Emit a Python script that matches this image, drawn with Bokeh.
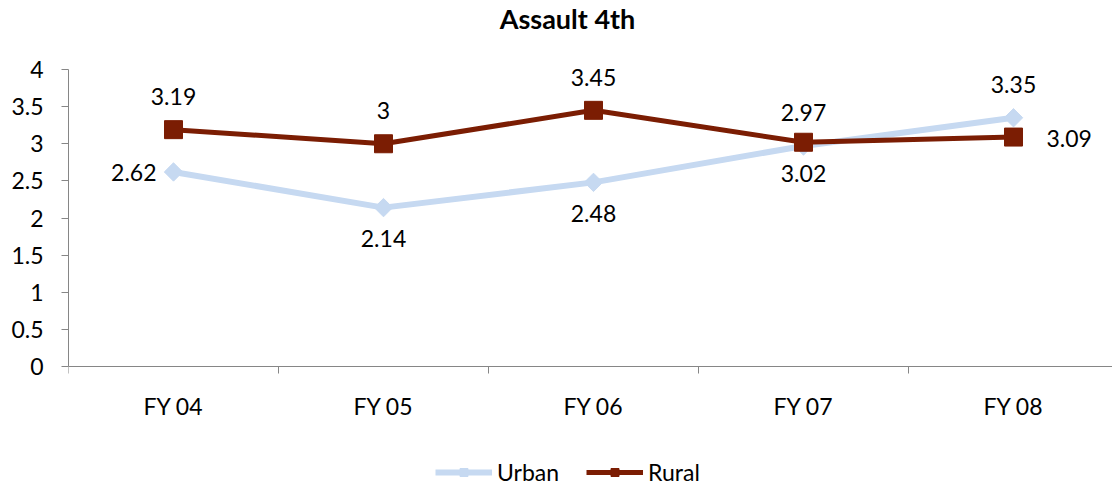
import numpy as np
from bokeh.plotting import figure
from bokeh.models import FixedTicker, Legend, LegendItem, ColumnDataSource, Label
from bokeh.core.properties import value
from bokeh.embed import file_html
from bokeh.resources import INLINE

categories = ["FY 04", "FY 05", "FY 06", "FY 07", "FY 08"]
urban = [2.62, 2.14, 2.48, 2.97, 3.35]
rural = [3.19, 3.00, 3.45, 3.02, 3.09]
urban_label_pos = ["left", "below", "below", "above", "above"]
rural_label_pos = ["above", "above", "above", "below", "right"]
y_ticks = [0, 0.5, 1, 1.5, 2, 2.5, 3, 3.5, 4]
TITLE = "Assault 4th"

FONT = "Lato"
URBAN_C = "#C6D9F1"
RURAL_C = "#7B1D03"
AXIS_C = "#868686"

W, H = 1112, 486
LEFT = 68
PLOT_TOP, PLOT_BOTTOM = 69, 366          # pixel rows of y=4 and y=0
CAT_W = 210                              # pixels per category
px_per_unit = (PLOT_BOTTOM - PLOT_TOP) / 4.0
y_lo = -(H - PLOT_BOTTOM) / px_per_unit
y_hi = 4 + PLOT_TOP / px_per_unit
x_lo = -0.5
x_hi = -0.5 + (W - LEFT) / CAT_W

xs = list(range(len(categories)))

p = figure(width=W, height=H, output_backend="svg", toolbar_location=None,
           x_range=(x_lo, x_hi), y_range=(y_lo, y_hi),
           min_border_left=LEFT, min_border_right=0, min_border_top=0, min_border_bottom=0)
p.outline_line_color = None
p.xgrid.grid_line_color = None
p.ygrid.grid_line_color = None
p.background_fill_color = "white"
p.border_fill_color = "white"

# axes
p.yaxis.ticker = FixedTicker(ticks=y_ticks)
p.yaxis.bounds = (0, 4)
p.yaxis.major_label_overrides = {t: ("%g" % t) for t in y_ticks}
p.yaxis.axis_line_color = AXIS_C
p.yaxis.major_tick_line_color = AXIS_C
p.yaxis.major_tick_out = 7
p.yaxis.major_tick_in = 0
p.yaxis.minor_tick_line_color = None
p.yaxis.major_label_text_font = FONT
p.yaxis.major_label_text_font_size = "23px"
p.yaxis.major_label_text_color = "black"
p.yaxis.major_label_standoff = 18

p.xaxis.fixed_location = 0
p.xaxis.ticker = FixedTicker(ticks=xs, minor_ticks=[i - 0.5 for i in range(len(categories) + 1)])
p.xaxis.major_label_overrides = {i: c for i, c in zip(xs, categories)}
p.xaxis.axis_line_color = AXIS_C
p.xaxis.major_tick_line_color = None
p.xaxis.major_tick_out = 0
p.xaxis.major_tick_in = 0
p.xaxis.minor_tick_line_color = AXIS_C
p.xaxis.minor_tick_out = 7
p.xaxis.minor_tick_in = 0
p.xaxis.major_label_text_font = FONT
p.xaxis.major_label_text_font_size = "23px"
p.xaxis.major_label_text_color = "black"
p.xaxis.major_label_standoff = 18

# title
title_x = x_lo + (567 - LEFT) / CAT_W
title_y = y_hi - 18 / px_per_unit
p.add_layout(Label(x=title_x, y=title_y, text=TITLE, text_font=FONT, text_font_size="27px",
                   text_font_style="bold", text_color="black",
                   text_align="center", text_baseline="middle"))

# series
ul = p.line(xs, urban, line_color=URBAN_C, line_width=6)
us = p.scatter(xs, urban, marker="square", angle=np.pi / 4, size=13,
               fill_color=URBAN_C, line_color=URBAN_C)
rl = p.line(xs, rural, line_color=RURAL_C, line_width=5)
rs = p.scatter(xs, rural, marker="square", size=18, fill_color=RURAL_C, line_color=RURAL_C)

# data labels
def offsets(pos):
    table = {
        "above": (0, -33, "center", "middle"),
        "below": (0, 31, "center", "middle"),
        "left": (-17, 1, "right", "middle"),
        "right": (33, 1, "left", "middle"),
    }
    return [table[q] for q in pos]

lx, ly, lt, ox, oy, al, bl = [], [], [], [], [], [], []
for vals, pos in ((urban, urban_label_pos), (rural, rural_label_pos)):
    for i, (v, o) in enumerate(zip(vals, offsets(pos))):
        lx.append(i); ly.append(v); lt.append("%g" % v)
        ox.append(o[0]); oy.append(o[1]); al.append(o[2]); bl.append(o[3])
src = ColumnDataSource(dict(x=lx, y=ly, t=lt, ox=ox, oy=oy, al=al, bl=bl))
p.text(x="x", y="y", text="t", source=src, x_offset="ox", y_offset="oy",
       text_align="al", text_baseline="bl", text_font=value(FONT),
       text_font_size="23px", text_color="black")

legend = Legend(items=[LegendItem(label="Urban", renderers=[ul, us]),
                       LegendItem(label="Rural", renderers=[rl, rs])],
                orientation="horizontal", location=(367, 0),
                border_line_alpha=0, background_fill_alpha=0,
                label_text_font=FONT, label_text_font_size="23px",
                label_text_color="black",
                glyph_width=57, glyph_height=20, spacing=27, padding=0,
                margin=0, label_standoff=5)
p.add_layout(legend, "center")

open("out.html", "w").write(file_html(p, INLINE))
